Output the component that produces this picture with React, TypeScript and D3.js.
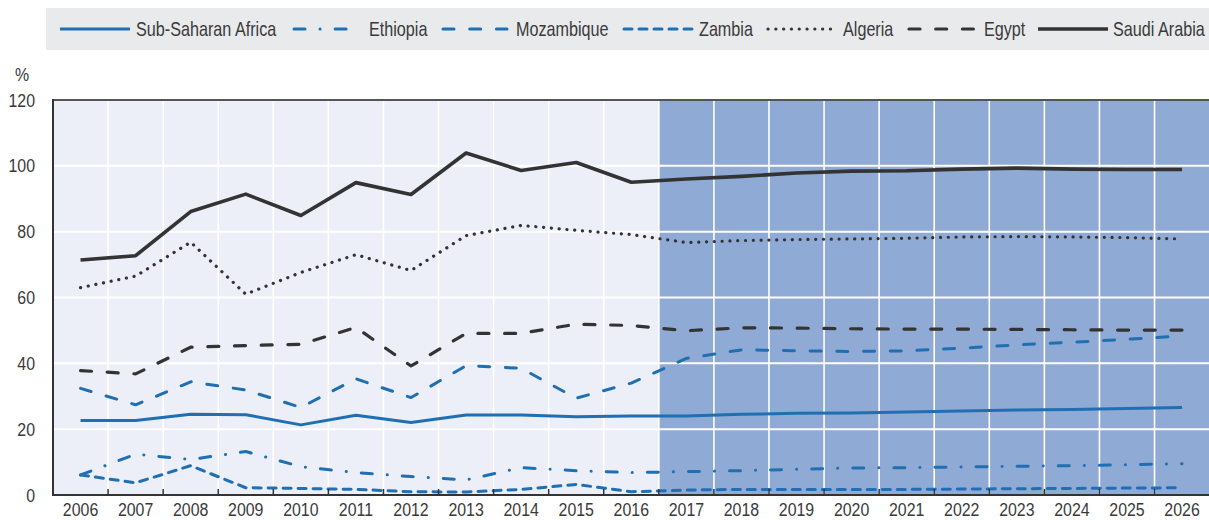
import React from "react";
import * as d3 from "d3";

const years = [
  "2006","2007","2008","2009","2010","2011","2012","2013","2014","2015","2016",
  "2017","2018","2019","2020","2021","2022","2023","2024","2025","2026",
];
const firstProjectionYear = "2017";

const subSaharanAfrica = [22.6,22.6,24.5,24.4,21.3,24.2,22.0,24.3,24.3,23.8,24.0,24.0,24.5,24.8,24.9,25.2,25.5,25.8,26.0,26.3,26.6];
const ethiopia = [6.1,12.4,10.8,13.2,8.6,6.8,5.6,4.6,8.3,7.4,6.8,7.1,7.4,7.8,8.2,8.3,8.5,8.7,8.9,9.2,9.5];
const mozambique = [32.4,27.4,34.4,31.9,26.6,35.3,29.6,39.3,38.5,29.4,34.0,41.5,44.1,43.8,43.6,43.8,44.6,45.6,46.4,47.3,48.3];
const zambia = [6.1,3.7,8.9,2.2,2.0,1.7,1.0,0.9,1.7,3.2,1.0,1.5,1.7,1.7,1.7,1.7,1.8,1.9,2.0,2.1,2.2];
const algeria = [63.0,66.5,76.8,61.0,67.6,73.0,68.2,78.8,81.9,80.4,79.1,76.7,77.3,77.6,77.8,78.0,78.4,78.5,78.4,78.2,77.8];
const egypt = [37.8,36.8,44.9,45.4,45.8,50.9,39.2,49.1,49.1,51.9,51.5,49.9,50.8,50.7,50.5,50.4,50.4,50.3,50.2,50.1,50.1];
const saudiArabia = [71.4,72.7,86.1,91.4,84.9,94.9,91.3,103.9,98.6,101.0,95.0,96.0,96.8,97.8,98.4,98.5,99.0,99.3,99.0,98.9,98.9];

const yTicks = [0, 20, 40, 60, 80, 100, 120];

const BLUE = "#1f6fb2";
const DARK = "#333333";
const TEXT = "#3a3a3a";

type SeriesDef = {
  name: string;
  values: number[];
  color: string;
  width: number;
  dash: string | null;
  cap: "round" | "butt";
  legendX: number;
  legendW: number;
  textX: number;
};

const series: SeriesDef[] = [
  { name: "Sub-Saharan Africa", values: subSaharanAfrica, color: BLUE, width: 3, dash: null, cap: "butt", legendX: 60, legendW: 70, textX: 136 },
  { name: "Ethiopia", values: ethiopia, color: BLUE, width: 3, dash: "11,15,0.1,15", cap: "round", legendX: 294, legendW: 54, textX: 369 },
  { name: "Mozambique", values: mozambique, color: BLUE, width: 3, dash: "11,15.7", cap: "round", legendX: 443, legendW: 64, textX: 516 },
  { name: "Zambia", values: zambia, color: BLUE, width: 3, dash: "8,7", cap: "round", legendX: 624, legendW: 68, textX: 699 },
  { name: "Algeria", values: algeria, color: DARK, width: 3.2, dash: "0.1,7.7", cap: "round", legendX: 768, legendW: 63, textX: 843 },
  { name: "Egypt", values: egypt, color: DARK, width: 3.2, dash: "11,15.7", cap: "round", legendX: 909, legendW: 66, textX: 984 },
  { name: "Saudi Arabia", values: saudiArabia, color: DARK, width: 3.6, dash: null, cap: "butt", legendX: 1038, legendW: 70, textX: 1113 },
];

const FONT = "'Liberation Sans', Arial, Helvetica, sans-serif";

function NarrowText(props: { x: number; y: number; anchor?: string; size: number; sx: number; children: React.ReactNode }) {
  const { x, y, anchor = "start", size, sx, children } = props;
  return (
    <text
      transform={`translate(${x},${y}) scale(${sx},1)`}
      textAnchor={anchor}
      fontSize={size}
      fill={TEXT}
    >
      {children}
    </text>
  );
}

export default function App() {
  const W = 1209;
  const H = 520;
  const left = 53;
  const right = 1209.6;
  const top = 100;
  const bottom = 495;

  const x = d3.scaleBand<string>().domain(years).range([left, right]).padding(0);
  const y = d3.scaleLinear().domain([0, 120]).range([bottom, top]);
  const bw = x.bandwidth();
  const cx = (yr: string) => (x(yr) as number) + bw / 2;

  const line = d3
    .line<number>()
    .x((_, i) => cx(years[i]))
    .y((d) => y(d))
    .curve(d3.curveLinear);

  const projStart = x(firstProjectionYear) as number;
  const boundaries = years.slice(1).map((yr) => x(yr) as number);

  return (
    <svg
      width={W}
      height={H}
      style={{ position: "absolute", left: 0, top: 0, background: "#fff" }}
      fontFamily={FONT}
    >
      {/* legend */}
      <rect x={46} y={8} width={W - 46} height={42} fill="#e9eaec" />
      {series.map((s) => (
        <g key={s.name}>
          <line
            x1={s.legendX}
            x2={s.legendX + s.legendW}
            y1={29}
            y2={29}
            stroke={s.color}
            strokeWidth={s.width}
            strokeDasharray={s.dash ?? undefined}
            strokeLinecap={s.cap}
          />
          <NarrowText x={s.textX} y={36} size={19.5} sx={0.83}>
            {s.name}
          </NarrowText>
        </g>
      ))}

      {/* plot background */}
      <rect x={left} y={top} width={projStart - left} height={bottom - top} fill="#eceef8" />
      <rect x={projStart} y={top} width={right - projStart} height={bottom - top} fill="#8faad4" />

      {/* gridlines */}
      {yTicks.filter((t) => t !== 0 && t !== 120).map((t) => (
        <line key={"h" + t} x1={left} x2={right} y1={y(t)} y2={y(t)} stroke="#fff" strokeWidth={2} />
      ))}
      {boundaries.map((bx, i) => (
        <line key={"v" + i} x1={bx} x2={bx} y1={top} y2={bottom} stroke="#fff" strokeWidth={1.6} />
      ))}

      {/* series */}
      {series.map((s) => (
        <path
          key={"p" + s.name}
          d={line(s.values) ?? ""}
          fill="none"
          stroke={s.color}
          strokeWidth={s.width}
          strokeDasharray={s.dash ?? undefined}
          strokeLinecap={s.cap}
          strokeLinejoin="round"
        />
      ))}

      {/* axes */}
      <line x1={left} x2={W} y1={top} y2={top} stroke="#555" strokeWidth={2} />
      <line x1={left} x2={left} y1={top - 1} y2={bottom + 1} stroke={DARK} strokeWidth={2} />
      <line x1={left - 1} x2={W} y1={bottom} y2={bottom} stroke={DARK} strokeWidth={2} />
      {boundaries.map((bx, i) => (
        <line key={"t" + i} x1={bx} x2={bx} y1={bottom - 6} y2={bottom} stroke={DARK} strokeWidth={1.5} />
      ))}

      {/* y labels */}
      {yTicks.map((t) => (
        <NarrowText key={"yl" + t} x={35} y={y(t) + 6.5} anchor="end" size={18.5} sx={0.86}>
          {t}
        </NarrowText>
      ))}
      <NarrowText x={22} y={81} anchor="middle" size={18.5} sx={0.86}>
        %
      </NarrowText>

      {/* x labels */}
      {years.map((yr) => (
        <NarrowText key={"xl" + yr} x={cx(yr)} y={516} anchor="middle" size={18.5} sx={0.86}>
          {yr}
        </NarrowText>
      ))}
    </svg>
  );
}
